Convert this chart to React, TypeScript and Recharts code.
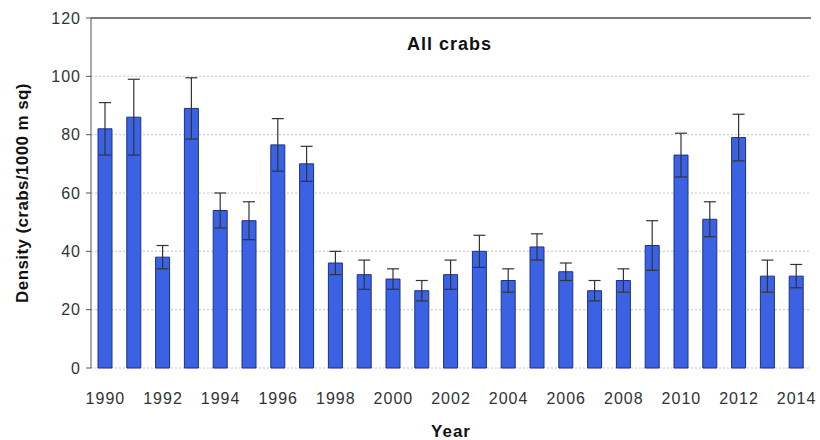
import React from 'react';
import {
  BarChart,
  Bar,
  XAxis,
  YAxis,
  CartesianGrid,
  ErrorBar,
  ReferenceLine,
} from 'recharts';

// Crab density survey, all crabs (crabs per 1000 m sq), mean +/- error
const years = [
  1990, 1991, 1992, 1993, 1994, 1995, 1996, 1997, 1998, 1999, 2000, 2001, 2002,
  2003, 2004, 2005, 2006, 2007, 2008, 2009, 2010, 2011, 2012, 2013, 2014,
];
const density = [
  82, 86, 38, 89, 54, 50.5, 76.5, 70, 36, 32, 30.5, 26.5, 32,
  40, 30, 41.5, 33, 26.5, 30, 42, 73, 51, 79, 31.5, 31.5,
];
const errors = [
  9, 13, 4, 10.5, 6, 6.5, 9, 6, 4, 5, 3.5, 3.5, 5,
  5.5, 4, 4.5, 3, 3.5, 4, 8.5, 7.5, 6, 8, 5.5, 4,
];
const yTicks = [0, 20, 40, 60, 80, 100, 120];

const data = years.map((year, i) => ({
  year,
  density: density[i],
  err: errors[i],
}));

// bar edges, used for the tick marks between categories
const edgeTicks = [...years.map((y) => y - 0.5), years[years.length - 1] + 0.5];

const FONT = '"Liberation Sans", Arial, sans-serif';
const AXIS = '#555';

export default function App() {
  return (
    <div style={{ position: 'absolute', left: 0, top: 0, width: 820, height: 440, background: '#fff', fontFamily: FONT }}>
      <BarChart
        width={820}
        height={440}
        data={data}
        margin={{ top: 18, right: 9, left: 0, bottom: 0 }}
      >
        <CartesianGrid vertical={false} stroke="#c4c4c4" strokeDasharray="2 2" />
        <XAxis
          xAxisId="edges"
          type="number"
          domain={[edgeTicks[0], edgeTicks[edgeTicks.length - 1]]}
          ticks={edgeTicks}
          tick={false}
          tickSize={5}
          height={0}
          axisLine={{ stroke: AXIS }}
          tickLine={{ stroke: AXIS }}
          allowDataOverflow
        />
        <XAxis
          dataKey="year"
          interval={1}
          axisLine={false}
          tickLine={false}
          tickMargin={19}
          height={72}
          tick={{ fill: '#333', fontSize: 16, fontFamily: FONT, letterSpacing: 1 }}
          label={{
            value: 'Year',
            position: 'insideBottom',
            offset: 3,
            style: { fill: '#111', fontSize: 17, fontWeight: 'bold', fontFamily: FONT, letterSpacing: 1 },
          }}
        />
        <YAxis
          domain={[0, 120]}
          ticks={yTicks}
          width={91}
          tickSize={5}
          tickMargin={5}
          axisLine={{ stroke: AXIS }}
          tickLine={{ stroke: AXIS }}
          tick={{ fill: '#333', fontSize: 16, fontFamily: FONT, letterSpacing: 1 }}
          label={{
            value: 'Density (crabs/1000 m sq)',
            angle: -90,
            position: 'insideLeft',
            offset: 22,
            style: { textAnchor: 'middle', fill: '#111', fontSize: 17, fontWeight: 'bold', fontFamily: FONT, letterSpacing: 0.4 },
          }}
        />
        <ReferenceLine y={120} stroke={AXIS} strokeWidth={1.5} />
        <ReferenceLine x={edgeTicks[edgeTicks.length - 1]} xAxisId="edges" stroke="#777" strokeWidth={1.5} />
        <Bar
          dataKey="density"
          fill="#3b62e2"
          stroke="#1c2f8a"
          strokeWidth={1}
          barSize={14}
          isAnimationActive={false}
        >
          <ErrorBar dataKey="err" direction="y" width={6} stroke="#333" strokeWidth={1.2} />
        </Bar>
      </BarChart>
      <div
        style={{
          position: 'absolute',
          left: 407,
          top: 34,
          fontSize: 18,
          fontWeight: 'bold',
          color: '#111',
          letterSpacing: 1,
        }}
      >
        All crabs
      </div>
    </div>
  );
}
